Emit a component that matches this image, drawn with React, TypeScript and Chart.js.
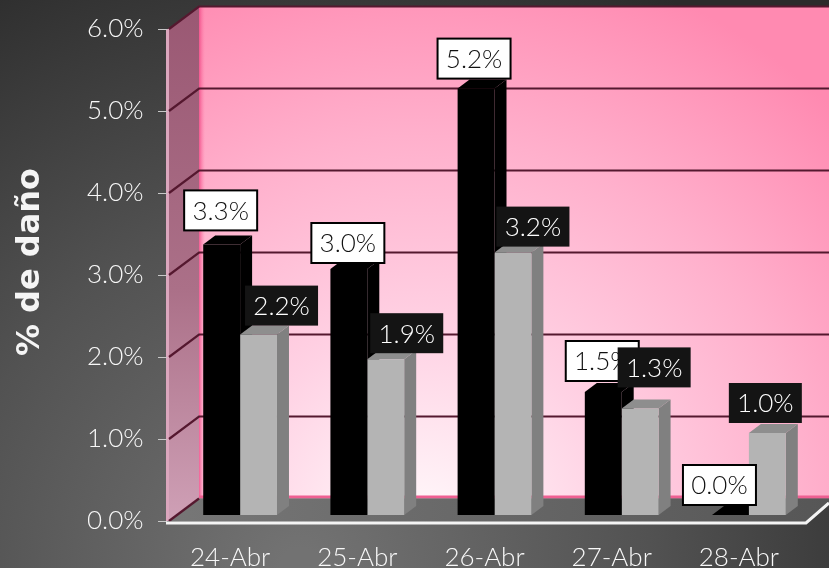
import React, { useEffect, useRef } from "react";
import { Chart, registerables } from "chart.js";

Chart.register(...registerables);

const categories = ["24-Abr", "25-Abr", "26-Abr", "27-Abr", "28-Abr"];
const blackSeries = [3.3, 3.0, 5.2, 1.5, 0.0];
const graySeries = [2.2, 1.9, 3.2, 1.3, 1.0];
const axisTitle = "% de daño";

// Label box offsets from the top of the bar, in pixels
const blackLabelDx = [-1, -1, -2, -1, -11];
const blackLabelDy = [-34, -26, -30, -31, -30];
const grayLabelDx = [23, 21, 20, 14, -2];
const grayLabelDy = [-29, -26, -26, -41, -30];

const FONT = "Lato, 'Open Sans', sans-serif";
const DEPTH_X = 12;
const DEPTH_Y = 9;
const WALL_LEFT = 199;
const WALL_RIGHT = 829;
const FRONT_LEFT = 168;
const BACK_DY = 22.5;

function poly(ctx: CanvasRenderingContext2D, pts: number[][], fill: any) {
  ctx.beginPath();
  pts.forEach((p, i) => (i ? ctx.lineTo(p[0], p[1]) : ctx.moveTo(p[0], p[1])));
  ctx.closePath();
  ctx.fillStyle = fill;
  ctx.fill();
}

const scenePlugin = {
  id: "scene",
  beforeDraw(chart: any) {
    const { ctx, width, height } = chart;
    const bg = ctx.createRadialGradient(300, 568, 20, 300, 568, 680);
    bg.addColorStop(0, "#727272");
    bg.addColorStop(0.5, "#525252");
    bg.addColorStop(1, "#2b2b2b");
    ctx.fillStyle = bg;
    ctx.fillRect(0, 0, width, height);
  },
  beforeDatasetsDraw(chart: any) {
    const { ctx } = chart;
    const y = chart.scales.y;
    const top = y.getPixelForValue(6);
    const bottom = y.getPixelForValue(0);
    const backTop = top - BACK_DY;
    const backBottom = bottom - BACK_DY;
    ctx.save();

    // back wall
    const wall = ctx.createRadialGradient(420, 530, 30, 420, 530, 590);
    wall.addColorStop(0, "#fff4f8");
    wall.addColorStop(0.3, "#ffd2e4");
    wall.addColorStop(0.65, "#ffb0cc");
    wall.addColorStop(1, "#ff8ab1");
    ctx.fillStyle = wall;
    ctx.fillRect(WALL_LEFT, backTop, WALL_RIGHT - WALL_LEFT, backBottom - backTop);
    const edge = ctx.createLinearGradient(WALL_LEFT - 1, 0, WALL_LEFT + 6, 0);
    edge.addColorStop(0, "rgba(235,60,125,0.95)");
    edge.addColorStop(1, "rgba(255,120,165,0)");
    ctx.fillStyle = edge;
    ctx.fillRect(WALL_LEFT - 1, backTop, 7, backBottom - backTop);
    ctx.fillStyle = "#ef5f92";
    ctx.fillRect(WALL_LEFT, backBottom - 3, WALL_RIGHT - WALL_LEFT, 3);

    // left side wall
    const side = ctx.createLinearGradient(0, backTop, 0, bottom);
    side.addColorStop(0, "#9a5873");
    side.addColorStop(0.55, "#ab7088");
    side.addColorStop(1, "#cfa0b6");
    poly(ctx, [[FRONT_LEFT, top], [WALL_LEFT, backTop], [WALL_LEFT, backBottom], [FRONT_LEFT, bottom]], side);
    ctx.fillStyle = "#dba6bd";
    ctx.fillRect(FRONT_LEFT - 2, top, 3, bottom - top);

    // floor
    const floor = ctx.createLinearGradient(FRONT_LEFT, 0, WALL_RIGHT, 0);
    floor.addColorStop(0, "#777777");
    floor.addColorStop(1, "#565656");
    poly(ctx, [[FRONT_LEFT, bottom], [WALL_LEFT, backBottom], [WALL_RIGHT, backBottom], [WALL_RIGHT, 503], [806, bottom + 2]], floor);

    // grid lines
    ctx.strokeStyle = "#55182f";
    ctx.lineWidth = 2.2;
    y.ticks.forEach((t: any) => {
      const py = y.getPixelForValue(t.value);
      ctx.beginPath();
      ctx.moveTo(FRONT_LEFT + 1, py);
      ctx.lineTo(WALL_LEFT, py - BACK_DY);
      if (t.value !== 0) ctx.lineTo(WALL_RIGHT, py - BACK_DY);
      ctx.stroke();
      ctx.save();
      ctx.strokeStyle = "#c8c8c8";
      ctx.lineWidth = 1;
      ctx.beginPath();
      ctx.moveTo(FRONT_LEFT - 10, py + 0.5);
      ctx.lineTo(FRONT_LEFT - 1, py + 0.5);
      ctx.stroke();
      ctx.restore();
    });

    // white front edge of the floor
    ctx.strokeStyle = "#f4f4f4";
    ctx.lineWidth = 3;
    ctx.beginPath();
    ctx.moveTo(FRONT_LEFT - 2, bottom + 2);
    ctx.lineTo(806, bottom + 2);
    ctx.lineTo(829, 503);
    ctx.stroke();

    // bar depth faces
    const faces = [
      { side: "#000000", top: "#000000" },
      { side: "#808080", top: "#8e8e8e" },
    ];
    faces.forEach((f, d) => {
      chart.getDatasetMeta(d).data.forEach((b: any) => {
        const p = b.getProps(["x", "y", "base", "width"], true);
        const r = p.x + p.width / 2;
        const l = p.x - p.width / 2;
        poly(ctx, [[r, p.y], [r + DEPTH_X, p.y - DEPTH_Y], [r + DEPTH_X, p.base - DEPTH_Y], [r, p.base]], f.side);
        poly(ctx, [[l, p.y], [l + DEPTH_X, p.y - DEPTH_Y], [r + DEPTH_X, p.y - DEPTH_Y], [r, p.y]], f.top);
      });
    });
    ctx.restore();
  },
  afterDatasetsDraw(chart: any) {
    const { ctx } = chart;
    ctx.save();

    // axis title
    ctx.save();
    ctx.translate(31, 262);
    ctx.rotate(-Math.PI / 2);
    ctx.font = "700 32px 'DejaVu Sans', sans-serif";
    ctx.fillStyle = "#f5f5f5";
    ctx.textAlign = "center";
    ctx.textBaseline = "middle";
    ctx.fillText(axisTitle, 0, 0);
    ctx.restore();

    // value labels
    ctx.font = `300 26px ${FONT}`;
    ctx.textAlign = "center";
    ctx.textBaseline = "middle";
    const drawLabels = (d: number, values: number[], dx: number[], dy: number[]) => {
      chart.getDatasetMeta(d).data.forEach((b: any, i: number) => {
        const p = b.getProps(["x", "y"], true);
        const cx = p.x + dx[i];
        const cy = p.y + dy[i];
        const w = 73;
        const h = 40;
        if (d === 0) {
          ctx.fillStyle = "#ffffff";
          ctx.fillRect(cx - w / 2, cy - h / 2, w, h);
          ctx.strokeStyle = "#000000";
          ctx.lineWidth = 2;
          ctx.strokeRect(cx - w / 2, cy - h / 2, w, h);
          ctx.fillStyle = "#111111";
        } else {
          ctx.fillStyle = "#141414";
          ctx.fillRect(cx - w / 2, cy - h / 2, w, h);
          ctx.fillStyle = "#ffffff";
        }
        ctx.fillText(values[i].toFixed(1) + "%", cx, cy + 1);
      });
    };
    drawLabels(0, blackSeries, blackLabelDx, blackLabelDy);
    drawLabels(1, graySeries, grayLabelDx, grayLabelDy);
    ctx.restore();
  },
};

export default function App() {
  const ref = useRef<HTMLCanvasElement | null>(null);
  useEffect(() => {
    document.body.style.margin = "0";
    const chart = new Chart(ref.current as HTMLCanvasElement, {
      type: "bar",
      data: {
        labels: categories,
        datasets: [
          { label: "Serie 1", data: blackSeries, backgroundColor: "#000000", yAxisID: "bars", categoryPercentage: 0.58, barPercentage: 1 },
          { label: "Serie 2", data: graySeries, backgroundColor: "#b4b4b4", yAxisID: "bars", categoryPercentage: 0.58, barPercentage: 1 },
        ],
      },
      options: {
        responsive: false,
        animation: false,
        layout: { autoPadding: false, padding: { left: 0, right: 16.5, top: 29, bottom: 0 } },
        plugins: { legend: { display: false }, tooltip: { enabled: false } },
        scales: {
          x: {
            grid: { display: false, drawTicks: false },
            border: { display: false },
            ticks: { color: "#f8f8f8", font: { family: FONT, size: 26, weight: "300" }, padding: 21, labelOffset: -10, maxRotation: 0 },
            afterFit: (s: any) => { s.height = 47; s.paddingLeft = 0; s.paddingRight = 0; },
          },
          y: {
            min: 0,
            max: 6,
            grid: { display: false, drawTicks: false },
            border: { display: false },
            ticks: { stepSize: 1, color: "#f8f8f8", font: { family: FONT, size: 26, weight: "300" }, padding: 33, callback: (v: any) => Number(v).toFixed(1) + "%" },
            afterFit: (s: any) => { s.width = 176.5; s.paddingTop = 0; s.paddingBottom = 0; },
          },
          bars: { display: false, min: -6 / 82, max: 6 - 6 / 82 },
        },
      } as any,
      plugins: [scenePlugin],
    });
    return () => chart.destroy();
  }, []);
  return (
    <div style={{ position: "absolute", left: 0, top: 0, width: 829, height: 568 }}>
      <canvas ref={ref} width={829} height={568} style={{ display: "block" }} />
    </div>
  );
}
